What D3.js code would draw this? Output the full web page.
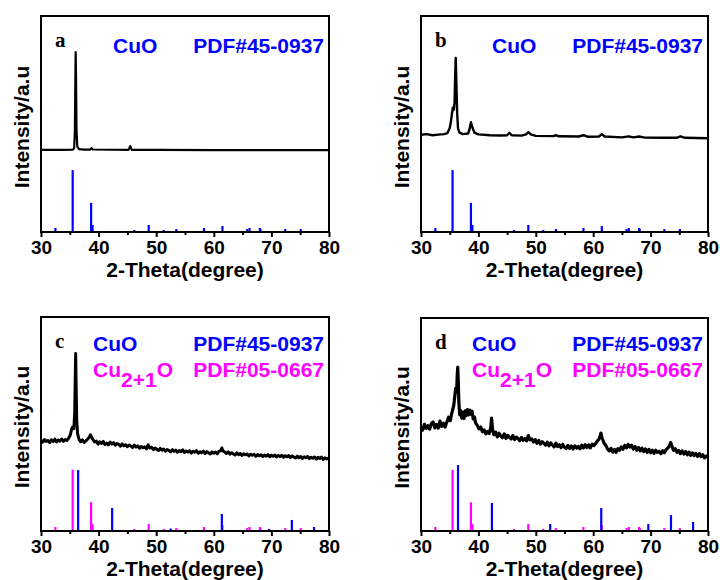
<!DOCTYPE html>
<html>
<head>
<meta charset="utf-8">
<script src="https://cdn.jsdelivr.net/npm/d3@7"></script>
<style>
  body { margin: 0; background: #fff; }
  svg text { font-family: "Liberation Sans", Arial, sans-serif; font-weight: bold; }
</style>
</head>
<body>
<div id="root"></div>
<script>
// ---- data ----
const thetaTicks = [30, 40, 50, 60, 70, 80];
const minorTicks = [35, 45, 55, 65, 75];

// reference lines [2theta, relative intensity]
const cuoRef = [
  [32.5, 1.4], [35.5, 28.2], [38.7, 13.0], [38.95, 2.8], [46.2, 0.5],
  [48.7, 2.8], [51.3, 0.5], [53.5, 0.9], [58.3, 1.4], [61.5, 2.3],
  [65.8, 0.9], [66.2, 1.4], [68.0, 1.4], [68.1, 0.9], [72.4, 0.9], [75.1, 0.9]
];
const cu2oRefC = [
  [36.45, 28.0], [42.35, 10.3], [52.5, 0.7], [61.4, 7.5], [69.6, 0.5], [73.55, 4.7], [77.4, 1.4]
];
const cu2oRefD = [
  [36.45, 30.5], [42.35, 12.7], [52.5, 2.8], [61.4, 10.3], [69.6, 2.8], [73.55, 7.0], [77.4, 3.8]
];

// measured patterns [2theta, intensity]
const patternA = [
  [30, 38.0], [32, 38.0], [34, 38.0], [35.5, 38.1], [35.75, 38.8], [35.88, 46], [35.96, 70],
  [36.02, 83.3], [36.08, 72], [36.16, 48], [36.3, 39.5], [36.6, 38.4], [37.5, 38.1], [38.5, 38.1],
  [38.75, 38.8], [39.0, 38.2], [45.2, 38.0], [45.5, 39.8], [45.75, 38.0], [50, 38.0], [60, 37.9],
  [70, 37.9], [80, 37.9]
];
const patternB = [
  [30, 45.0], [31, 45.3], [32, 44.8], [33, 45.1], [34, 45.3], [34.6, 45.8], [35.0, 48], [35.2, 51],
  [35.4, 55], [35.55, 57.5], [35.7, 56.5], [35.85, 60], [35.95, 72], [36.05, 80.6], [36.15, 70],
  [36.3, 55], [36.45, 48], [36.7, 46], [37.3, 45.3], [38.2, 45.6], [38.45, 47.5], [38.7, 50.8],
  [38.95, 48.5], [39.3, 46], [40, 45.2], [42, 44.8], [44, 44.7], [45.0, 44.8], [45.4, 45.9],
  [45.8, 44.8], [47.5, 44.6], [48.3, 45.2], [48.7, 46.3], [49.1, 45.2], [50, 44.5], [53, 44.4],
  [53.5, 44.8], [54, 44.3], [57.5, 44.2], [58.3, 44.8], [59, 44.1], [61, 44.2], [61.5, 45.3],
  [62, 44.2], [65, 43.8], [66.2, 44.3], [67, 43.8], [68, 44.2], [69, 43.7], [72, 43.6],
  [74.5, 43.6], [75.2, 44.3], [76, 43.6], [80, 43.4]
];
const patternC = [
  [30.0, 42.4], [30.3, 41.5], [30.6, 42.7], [30.9, 41.9], [31.2, 42.3], [31.5, 41.3], [31.8, 42.6],
  [32.1, 41.8], [32.4, 42.9], [32.7, 41.6], [33.0, 42.5], [33.3, 42.0], [33.6, 43.0], [33.9, 41.9],
  [34.2, 42.7], [34.5, 42.3], [34.8, 43.4], [35.1, 45.0], [35.3, 47.5], [35.5, 48.6], [35.7, 47.8],
  [35.85, 55], [35.95, 72], [36.02, 83], [36.1, 68], [36.2, 52], [36.35, 45.5], [36.6, 42.8],
  [36.9, 41.7], [37.2, 42.6], [37.5, 41.4], [37.8, 42.1], [38.1, 42.9], [38.4, 44.0], [38.6, 45.0],
  [38.8, 43.6], [39.0, 42.8], [39.3, 41.6], [39.6, 42.0], [39.9, 40.6], [40.2, 41.7], [40.5, 40.9],
  [40.8, 41.9], [41.1, 40.4], [41.4, 41.1], [41.7, 40.2], [42.0, 41.6], [42.3, 40.6], [42.6, 41.3],
  [42.9, 40.1], [43.2, 40.9], [43.5, 40.5], [43.8, 39.6], [44.1, 40.7], [44.4, 39.8], [44.7, 40.3],
  [45.0, 39.4], [45.3, 40.2], [45.6, 39.7], [45.9, 39.0], [46.2, 40.1], [46.5, 39.2], [46.8, 39.8],
  [47.1, 38.7], [47.4, 39.5], [47.7, 38.9], [48.0, 39.3], [48.3, 38.4], [48.6, 40.3], [48.9, 38.8],
  [49.2, 39.1], [49.5, 38.0], [49.8, 38.8], [50.1, 38.2], [50.4, 37.6], [50.7, 38.6], [51.0, 37.8],
  [51.3, 38.3], [51.6, 37.3], [51.9, 38.1], [52.2, 37.6], [52.5, 37.0], [52.8, 38.0], [53.1, 37.2],
  [53.4, 37.8], [53.7, 36.8], [54.0, 37.6], [54.3, 37.1], [54.6, 37.9], [54.9, 36.7], [55.2, 37.4],
  [55.5, 36.9], [55.8, 37.5], [56.1, 36.4], [56.4, 37.3], [56.7, 36.8], [57.0, 37.6], [57.3, 36.3],
  [57.6, 37.0], [57.9, 36.6], [58.2, 37.3], [58.5, 36.2], [58.8, 37.1], [59.1, 36.5], [59.4, 36.0],
  [59.7, 37.0], [60.0, 36.3], [60.3, 36.9], [60.6, 36.1], [60.9, 37.2], [61.2, 37.6], [61.4, 38.8],
  [61.6, 37.4], [61.9, 36.9], [62.2, 36.2], [62.5, 37.0], [62.8, 35.9], [63.1, 36.6], [63.4, 36.0],
  [63.7, 35.5], [64.0, 36.5], [64.3, 35.7], [64.6, 36.2], [64.9, 35.3], [65.2, 36.1], [65.5, 35.6],
  [65.8, 36.0], [66.1, 35.1], [66.4, 35.9], [66.7, 35.4], [67.0, 35.8], [67.3, 34.9], [67.6, 35.7],
  [67.9, 35.2], [68.2, 35.6], [68.5, 34.8], [68.8, 35.5], [69.1, 35.0], [69.4, 35.7], [69.7, 34.7],
  [70.0, 35.4], [70.3, 34.9], [70.6, 35.5], [70.9, 34.6], [71.2, 35.3], [71.5, 34.8], [71.8, 35.4],
  [72.1, 34.4], [72.4, 35.2], [72.7, 34.7], [73.0, 35.3], [73.3, 34.3], [73.6, 35.1], [73.9, 34.5],
  [74.2, 34.1], [74.5, 35.0], [74.8, 34.2], [75.1, 34.8], [75.4, 33.9], [75.7, 34.7], [76.0, 34.2],
  [76.3, 34.8], [76.6, 33.8], [76.9, 34.5], [77.2, 34.0], [77.5, 34.6], [77.8, 33.6], [78.1, 34.4],
  [78.4, 33.9], [78.7, 34.5], [79.0, 33.5], [79.3, 34.2], [79.6, 33.7], [80.0, 34.0]
];
const patternD = [
  [30.0, 49.0], [30.3, 47.4], [30.6, 50.1], [30.9, 48.2], [31.2, 49.5], [31.5, 47.8], [31.8, 50.4],
  [32.1, 51.2], [32.4, 48.4], [32.7, 50.0], [33.0, 48.3], [33.3, 51.6], [33.6, 49.1], [33.9, 50.6],
  [34.2, 48.8], [34.5, 51.2], [34.8, 53.4], [35.1, 51.8], [35.3, 54.6], [35.5, 56.8], [35.7, 58.8],
  [35.9, 63.5], [36.05, 67.0], [36.2, 65.0], [36.32, 73.5], [36.4, 77.0], [36.5, 70.0], [36.6, 60.0],
  [36.75, 54.5], [36.9, 56.5], [37.1, 53.0], [37.3, 55.8], [37.5, 52.8], [37.7, 56.4], [37.9, 54.2],
  [38.1, 57.0], [38.3, 54.5], [38.5, 56.8], [38.7, 54.9], [38.9, 56.2], [39.1, 52.6], [39.3, 53.6],
  [39.5, 50.8], [39.8, 49.6], [40.1, 48.0], [40.4, 48.8], [40.7, 46.6], [41.0, 47.5], [41.3, 45.6],
  [41.6, 46.8], [41.9, 45.8], [42.15, 48.5], [42.3, 53.0], [42.45, 48.0], [42.7, 45.2], [43.0, 46.4],
  [43.3, 44.2], [43.6, 45.9], [43.9, 44.6], [44.2, 43.8], [44.5, 45.6], [44.8, 43.5], [45.1, 44.9],
  [45.4, 44.0], [45.7, 43.2], [46.0, 44.8], [46.3, 42.9], [46.6, 44.1], [46.9, 43.4], [47.2, 42.4],
  [47.5, 43.9], [47.8, 42.6], [48.1, 43.4], [48.4, 42.3], [48.7, 44.8], [49.0, 42.8], [49.3, 43.2],
  [49.6, 41.8], [49.9, 42.9], [50.2, 41.2], [50.5, 42.5], [50.8, 40.8], [51.1, 41.9], [51.4, 41.1],
  [51.7, 40.3], [52.0, 41.7], [52.3, 40.0], [52.6, 41.4], [52.9, 40.4], [53.2, 39.5], [53.5, 41.2],
  [53.8, 39.6], [54.1, 40.5], [54.4, 39.1], [54.7, 40.6], [55.0, 39.3], [55.3, 38.7], [55.6, 40.2],
  [55.9, 38.8], [56.2, 39.9], [56.5, 38.5], [56.8, 40.0], [57.1, 38.9], [57.4, 39.7], [57.7, 38.6],
  [58.0, 40.3], [58.3, 39.0], [58.6, 40.5], [58.9, 39.2], [59.2, 40.4], [59.5, 39.0], [59.8, 40.8],
  [60.1, 40.1], [60.4, 41.0], [60.7, 42.2], [61.0, 43.1], [61.2, 44.6], [61.35, 46.0], [61.5, 44.0],
  [61.7, 42.6], [61.9, 41.2], [62.2, 40.2], [62.5, 38.4], [62.8, 37.6], [63.1, 38.8], [63.4, 37.0],
  [63.7, 38.3], [64.0, 36.9], [64.3, 38.6], [64.6, 37.9], [64.9, 39.5], [65.2, 38.4], [65.5, 40.2],
  [65.8, 39.0], [66.1, 40.6], [66.4, 39.4], [66.7, 40.3], [67.0, 38.5], [67.3, 39.6], [67.6, 37.9],
  [67.9, 39.2], [68.2, 37.6], [68.5, 38.9], [68.8, 37.3], [69.1, 38.5], [69.4, 36.9], [69.7, 38.3],
  [70.0, 36.7], [70.3, 38.0], [70.6, 36.5], [70.9, 37.9], [71.2, 36.9], [71.5, 37.4], [71.8, 36.3],
  [72.1, 37.7], [72.4, 36.8], [72.7, 38.2], [73.0, 38.9], [73.3, 40.0], [73.5, 41.6], [73.7, 39.8],
  [74.0, 37.9], [74.3, 38.6], [74.6, 36.9], [74.9, 37.8], [75.2, 36.3], [75.5, 37.6], [75.8, 36.1],
  [76.1, 37.3], [76.4, 35.8], [76.7, 37.0], [77.0, 35.5], [77.3, 36.7], [77.6, 35.4], [77.9, 36.4],
  [78.2, 35.0], [78.5, 36.3], [78.8, 34.9], [79.1, 35.8], [79.4, 34.3], [79.7, 35.2], [80.0, 34.6]
];

const blue = "#0000ff";
const pink = "#ff00ff";

// ---- layout ----
const panels = [
  { label: "a", x0: 41, x1: 329, y0: 16, y1: 232, pattern: patternA, lw: 2.2,
    refs: [[cuoRef, blue]], legend: [["CuO", "PDF#45-0937", blue]], lx: 72, ly: 37 },
  { label: "b", x0: 421, x1: 708, y0: 16, y1: 232, pattern: patternB, lw: 2.4,
    refs: [[cuoRef, blue]], legend: [["CuO", "PDF#45-0937", blue]], lx: 71, ly: 37 },
  { label: "c", x0: 41, x1: 329, y0: 317, y1: 531, pattern: patternC, lw: 3,
    refs: [[cuoRef, pink], [cu2oRefC, blue]],
    legend: [["CuO", "PDF#45-0937", blue], ["Cu2+1O", "PDF#05-0667", pink]], lx: 52, ly: 34 },
  { label: "d", x0: 421, x1: 708, y0: 318, y1: 531, pattern: patternD, lw: 3.2,
    refs: [[cuoRef, pink], [cu2oRefD, blue]],
    legend: [["CuO", "PDF#45-0937", blue], ["Cu2+1O", "PDF#05-0667", pink]], lx: 51, ly: 33 }
];

const svg = d3
  .select("#root")
  .append("svg")
  .attr("width", 720)
  .attr("height", 580);

panels.forEach((p) => {
  const x = d3.scaleLinear().domain([30, 80]).range([p.x0, p.x1]);
  const y = d3.scaleLinear().domain([0, 100]).range([p.y1, p.y0]);
  const g = svg.append("g");

  // reference sticks
  p.refs.forEach(([ref, color]) => {
    g.append("g")
      .selectAll("line")
      .data(ref)
      .join("line")
      .attr("x1", (d) => x(d[0]))
      .attr("x2", (d) => x(d[0]))
      .attr("y1", y(0))
      .attr("y2", (d) => y(d[1]) - 1)
      .attr("stroke", color)
      .attr("stroke-width", 2.2);
  });

  // measured pattern
  g.append("path")
    .datum(p.pattern)
    .attr("fill", "none")
    .attr("stroke", "#000")
    .attr("stroke-width", p.lw)
    .attr("stroke-linejoin", "round")
    .attr("d", d3.line().x((d) => x(d[0])).y((d) => y(d[1])));

  // axes
  const major = g
    .append("g")
    .attr("transform", `translate(0,${p.y1})`)
    .call(d3.axisBottom(x).tickValues(thetaTicks).tickSize(5).tickSizeOuter(0).tickPadding(3.5));
  major.select(".domain").remove();
  major.selectAll("line").attr("stroke-width", 2);
  major.selectAll("text").attr("font-size", 19).attr("fill", "#000")
    .style("font-family", '"Liberation Sans", Arial, sans-serif').style("font-weight", "bold");

  const minor = g
    .append("g")
    .attr("transform", `translate(0,${p.y1})`)
    .call(d3.axisBottom(x).tickValues(minorTicks).tickSize(3).tickSizeOuter(0).tickFormat(""));
  minor.select(".domain").remove();
  minor.selectAll("line").attr("stroke-width", 2);

  // frame
  g.append("rect")
    .attr("x", p.x0)
    .attr("y", p.y0)
    .attr("width", p.x1 - p.x0)
    .attr("height", p.y1 - p.y0)
    .attr("fill", "none")
    .attr("stroke", "#000")
    .attr("stroke-width", 2);

  // axis titles
  g.append("text")
    .attr("x", (p.x0 + p.x1) / 2)
    .attr("y", p.y1 + 45)
    .attr("text-anchor", "middle")
    .attr("font-size", 21)
    .text("2-Theta(degree)");

  g.append("text")
    .attr("transform", `translate(${p.x0 - 12},${(p.y0 + p.y1) / 2 + 3}) rotate(-90)`)
    .attr("text-anchor", "middle")
    .attr("font-size", 21)
    .text("Intensity/a.u");

  // panel letter
  g.append("text")
    .attr("x", p.x0 + 14)
    .attr("y", p.y0 + 31)
    .attr("font-size", 21)
    .style("font-family", '"Liberation Serif", "Times New Roman", serif')
    .text(p.label);

  // legend rows
  p.legend.forEach(([phase, card, color], i) => {
    const by = p.y0 + p.ly + i * 26;
    const t = g.append("text")
      .attr("x", p.x0 + p.lx)
      .attr("y", by)
      .attr("font-size", 21)
      .attr("fill", color);
    const m = phase.match(/^Cu(\d\+\d)O$/);
    if (m) {
      t.append("tspan").text("Cu");
      t.append("tspan").attr("dy", 10).text(m[1]);
      t.append("tspan").attr("dy", -10).text("O");
    } else {
      t.text(phase);
    }
    g.append("text")
      .attr("x", p.x1 - 5)
      .attr("y", by)
      .attr("text-anchor", "end")
      .attr("font-size", 21)
      .attr("fill", color)
      .text(card);
  });
});
</script>
</body>
</html>
